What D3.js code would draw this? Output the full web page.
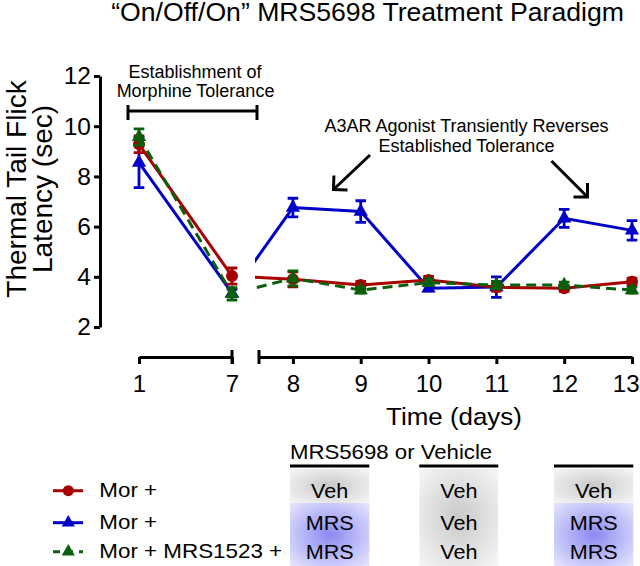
<!DOCTYPE html>
<html>
<head>
<meta charset="utf-8">
<script src="https://cdn.jsdelivr.net/npm/d3@7"></script>
<style>
  body { margin: 0; background: #fff; }
  svg { display: block; font-family: "Liberation Sans", Arial, sans-serif; }
</style>
</head>
<body>
<svg id="chart" width="640" height="566"></svg>
<script>
// values (mean, sem)
var days = [1, 7, 8, 9, 10, 11, 12, 13];
var morVeh = [9.28, 4.03, 3.90, 3.67, 3.87, 3.58, 3.54, 3.80];
var morVehSem = [0.33, 0.32, 0.30, 0.15, 0.15, 0.15, 0.12, 0.15];
var morMrs = [8.55, 3.35, 6.76, 6.60, 3.54, 3.59, 6.33, 5.85];
var morMrsSem = [1.00, 0.15, 0.37, 0.43, 0.10, 0.41, 0.36, 0.39];
var morAntMrs = [9.57, 3.32, 3.94, 3.47, 3.77, 3.67, 3.67, 3.47];
var morAntMrsSem = [0.32, 0.25, 0.30, 0.12, 0.12, 0.15, 0.12, 0.12];

var yTicks = [2, 4, 6, 8, 10, 12];
var xTicksEarly = [1, 7];
var xTicksLate = [8, 9, 10, 11, 12, 13];

var legendLabels = ['Mor +', 'Mor +', 'Mor + MRS1523 +'];
var tableHeader = 'MRS5698 or Vehicle';
var tableCols = [
  ['Veh', 'MRS', 'MRS'],
  ['Veh', 'Veh', 'Veh'],
  ['Veh', 'MRS', 'MRS']
];

var red = '#a80000', blue = '#0000c8', green = '#0a5f0a';

var series = [
  { values: morMrs, sem: morMrsSem, color: blue, symbol: d3.symbolTriangle, dash: null },
  { values: morVeh, sem: morVehSem, color: red, symbol: d3.symbolCircle, dash: null },
  { values: morAntMrs, sem: morAntMrsSem, color: green, symbol: d3.symbolTriangle, dash: '10,6' }
];
var legendOrder = [1, 0, 2];

var svg = d3.select('#chart');

// broken x axis: days 1-7 squeezed, then 7.5-13
var xa = d3.scaleLinear().domain([1, 7]).range([139, 232]);
var xb = d3.scaleLinear().domain([7.5, 13]).range([259, 632]);
var xp = function (d) { return d <= 7 ? xa(d) : xb(d); };
var y = d3.scaleLinear().domain([2, 12]).range([327, 76]);

function addText(parent, str, x, y0, size, anchor, sx) {
  return parent.append('text')
    .attr('transform', 'translate(' + x + ',' + y0 + ') scale(' + (sx || 1) + ',1)')
    .attr('text-anchor', anchor || 'start')
    .attr('font-size', size)
    .attr('fill', '#000')
    .text(str);
}

function styleAxis(g, size) {
  g.attr('font-family', null).attr('font-size', size);
  g.selectAll('path, line').attr('stroke', '#000').attr('stroke-width', 3);
  g.selectAll('text').attr('fill', '#000');
}

// title
addText(svg, '\u201COn/Off/On\u201D MRS5698 Treatment Paradigm', 367.6, 21, 25, 'middle', 1.065);

// y axis
var gy = svg.append('g')
  .attr('transform', 'translate(100,0)')
  .call(d3.axisLeft(y).tickValues(yTicks).tickFormat(d3.format('d')).tickSize(6).tickSizeOuter(0));
styleAxis(gy, 24.5);

var ylab = svg.append('g').attr('font-size', 28);
ylab.append('text').attr('transform', 'translate(26,189) rotate(-90)')
  .attr('text-anchor', 'middle').text('Thermal Tail Flick');
ylab.append('text').attr('transform', 'translate(51.5,189) rotate(-90)')
  .attr('text-anchor', 'middle').text('Latency (sec)');

// x axis (two pieces)
var gx1 = svg.append('g').attr('transform', 'translate(0,357)')
  .call(d3.axisBottom(xa).tickValues(xTicksEarly).tickFormat(d3.format('d'))
    .tickSize(7).tickSizeOuter(0).tickPadding(11));
styleAxis(gx1, 24);
var gx2 = svg.append('g').attr('transform', 'translate(0,357)')
  .call(d3.axisBottom(xb).tickValues(xTicksLate).tickFormat(d3.format('d'))
    .tickSize(7).tickSizeOuter(0).tickPadding(11));
styleAxis(gx2, 24);
// keep the last label inside the frame
gx2.selectAll('.tick text').filter(function (d) { return d === 13; })
  .attr('text-anchor', 'end').attr('x', 7);

// break caps
[xa(7), xb(7.5)].forEach(function (bx) {
  svg.append('line')
    .attr('x1', bx).attr('x2', bx).attr('y1', 350).attr('y2', 364)
    .attr('stroke', '#000').attr('stroke-width', 3);
});

addText(svg, 'Time (days)', 454, 425, 24, 'middle', 1.08);

// annotation bracket
var br = svg.append('g').attr('stroke', '#000').attr('stroke-width', 3).attr('fill', 'none');
br.append('path').attr('d', 'M128,105V120M128,111H257M257,105V120');
addText(svg, 'Establishment of', 195, 78, 18, 'middle');
addText(svg, 'Morphine Tolerance', 195.5, 97, 18, 'middle');

addText(svg, 'A3AR Agonist Transiently Reverses', 466.5, 132, 18, 'middle');
addText(svg, 'Established Tolerance', 466.5, 151.5, 18, 'middle');

function arrow(x1, y1, x2, y2) {
  var a = Math.atan2(y2 - y1, x2 - x1), L = 14;
  var p = d3.path();
  p.moveTo(x1, y1); p.lineTo(x2, y2);
  p.moveTo(x2 + L * Math.cos(a + Math.PI - Math.PI / 4), y2 + L * Math.sin(a + Math.PI - Math.PI / 4));
  p.lineTo(x2, y2);
  p.lineTo(x2 + L * Math.cos(a + Math.PI + Math.PI / 4), y2 + L * Math.sin(a + Math.PI + Math.PI / 4));
  svg.append('path').attr('d', p.toString())
    .attr('fill', 'none').attr('stroke', '#000').attr('stroke-width', 3);
}
arrow(370, 155, 333.5, 189.5);
arrow(551.5, 161, 587.5, 197);

// clip so the day 7 -> 8 segment only shows after the break
var clip = svg.append('defs').append('clipPath').attr('id', 'gap');
clip.append('rect').attr('x', 0).attr('y', 0).attr('width', xa(7)).attr('height', 566);
clip.append('rect').attr('x', xb(7.5) - 4).attr('y', 0).attr('width', 640).attr('height', 566);

var line = d3.line().x(function (d) { return xp(d.day); }).y(function (d) { return y(d.v); });

series.forEach(function (s) {
  var pts = days.map(function (d, i) { return { day: d, v: s.values[i], e: s.sem[i] }; });
  var g = svg.append('g');

  g.append('path').datum(pts)
    .attr('d', line)
    .attr('clip-path', 'url(#gap)')
    .attr('fill', 'none')
    .attr('stroke', s.color)
    .attr('stroke-width', 3)
    .attr('stroke-dasharray', s.dash);

  g.selectAll('.err').data(pts).enter().append('path')
    .attr('d', function (d) {
      var cx = xp(d.day), lo = y(d.v - d.e), hi = y(d.v + d.e), w = 5.3;
      return 'M' + cx + ',' + lo + 'V' + hi +
        'M' + (cx - w) + ',' + hi + 'H' + (cx + w) +
        'M' + (cx - w) + ',' + lo + 'H' + (cx + w);
    })
    .attr('fill', 'none').attr('stroke', s.color).attr('stroke-width', 2.8);

  g.selectAll('.mk').data(pts).enter().append('path')
    .attr('transform', function (d) { return 'translate(' + xp(d.day) + ',' + y(d.v) + ')'; })
    .attr('d', d3.symbol().type(s.symbol).size(s.symbol === d3.symbolCircle ? 113 : 88))
    .attr('fill', s.color);
});

// legend
var rowY = [490.7, 522.7, 551.7];
legendOrder.forEach(function (si, r) {
  var s = series[si];
  var g = svg.append('g');
  g.append('line').attr('x1', 53).attr('x2', 83).attr('y1', rowY[r]).attr('y2', rowY[r])
    .attr('stroke', s.color).attr('stroke-width', 3)
    .attr('stroke-dasharray', s.dash ? '7,6' : null);
  g.append('path').attr('transform', 'translate(68.3,' + rowY[r] + ')')
    .attr('d', d3.symbol().type(s.symbol).size(s.symbol === d3.symbolCircle ? 95 : 75))
    .attr('fill', s.color);
  addText(svg, legendLabels[r], 99.3, rowY[r] + 6.6, 20, 'start', 1.12);
});

// treatment table
var defs = svg.select('defs');
function radial(id, c0, c1) {
  var gr = defs.append('radialGradient').attr('id', id).attr('cx', '50%').attr('cy', '50%').attr('r', '70%');
  gr.append('stop').attr('offset', '0%').attr('stop-color', c0);
  gr.append('stop').attr('offset', '100%').attr('stop-color', c1);
}
radial('gVeh', '#c9c9c9', '#f6f6f6');
radial('gMrs', '#8a8af2', '#e6e6fd');

addText(svg, tableHeader, 290, 459.3, 20, 'start', 1.11);

var colX = [[290, 369.3], [419.3, 498.3], [554, 633.3]];
var rowEdges = [469, 503, 535, 566];
tableCols.forEach(function (col, c) {
  var x0 = colX[c][0], x1 = colX[c][1];
  // merge runs of equal treatment into one soft box
  var start = 0;
  for (var i = 1; i <= col.length; i++) {
    if (i === col.length || col[i] !== col[start]) {
      svg.append('rect')
        .attr('x', x0).attr('y', rowEdges[start])
        .attr('width', x1 - x0).attr('height', rowEdges[i] - rowEdges[start])
        .attr('fill', col[start] === 'MRS' ? 'url(#gMrs)' : 'url(#gVeh)');
      start = i;
    }
  }
  svg.append('line').attr('x1', x0).attr('x2', x1).attr('y1', 466).attr('y2', 466)
    .attr('stroke', '#000').attr('stroke-width', 3);
  col.forEach(function (t, r) {
    addText(svg, t, (x0 + x1) / 2, rowY[r] + 6.8, 21, 'middle', 1.03);
  });
});
</script>
</body>
</html>
